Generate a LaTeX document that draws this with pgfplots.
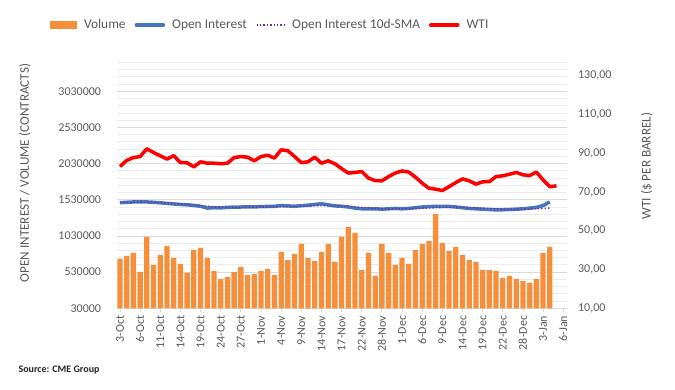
\documentclass[border=0pt]{standalone}
\usepackage{pgfplots}
\usepackage{pgfplotstable}
\pgfplotsset{compat=1.18}
\usepackage{fontspec}
\setmainfont{Carlito}
\definecolor{volc}{RGB}{246,143,60}
\definecolor{oic}{RGB}{70,118,190}
\definecolor{smac}{RGB}{112,48,160}
\definecolor{txtc}{RGB}{89,89,89}
\definecolor{gridmaj}{RGB}{217,217,217}
\definecolor{gridmin}{RGB}{236,236,236}

\pgfplotstableread{
idx vol oi sma
0 712000 1490000 1492000
1 753000 1495000 1494000
2 795000 1500000 1497000
3 532000 1502000 1498000
4 1016000 1500000 1497000
5 629000 1495000 1494000
6 767000 1488000 1490000
7 892000 1480000 1485000
8 726000 1472000 1478000
9 643000 1465000 1472000
10 518000 1460000 1465000
11 836000 1452000 1458000
12 864000 1440000 1450000
13 726000 1415000 1440000
14 546000 1420000 1433000
15 435000 1418000 1428000
16 463000 1425000 1425000
17 532000 1428000 1423000
18 601000 1430000 1423000
19 491000 1432000 1425000
20 504000 1432000 1427000
21 546000 1435000 1428000
22 574000 1438000 1430000
23 491000 1440000 1432000
24 809000 1450000 1435000
25 698000 1445000 1437000
26 781000 1440000 1440000
27 919000 1448000 1442000
28 726000 1455000 1445000
29 684000 1465000 1448000
30 809000 1475000 1450000
31 919000 1460000 1450000
32 670000 1445000 1448000
33 1016000 1440000 1443000
34 1154000 1430000 1437000
35 1071000 1415000 1430000
36 560000 1405000 1423000
37 795000 1403000 1417000
38 477000 1405000 1412000
39 919000 1400000 1408000
40 795000 1405000 1405000
41 629000 1410000 1405000
42 726000 1405000 1406000
43 643000 1410000 1408000
44 836000 1420000 1410000
45 919000 1430000 1413000
46 961000 1435000 1416000
47 1334000 1440000 1420000
48 933000 1440000 1423000
49 823000 1438000 1425000
50 878000 1430000 1425000
51 767000 1420000 1423000
52 698000 1410000 1420000
53 670000 1405000 1416000
54 560000 1400000 1412000
55 560000 1395000 1408000
56 546000 1390000 1404000
57 449000 1392000 1400000
58 477000 1395000 1398000
59 435000 1400000 1398000
60 407000 1405000 1400000
61 380000 1415000 1403000
62 435000 1425000 1406000
63 795000 1450000 1410000
64 878000 1500000 1415000
}\datatable

\pgfplotstableread{
idx wti
0 83.1
1 86.2
2 87.7
3 88.2
4 92.2
5 90.3
6 88.6
7 86.9
8 88.7
9 85.1
10 85.0
11 82.9
12 85.5
13 84.8
14 84.8
15 84.5
16 84.8
17 87.7
18 88.2
19 87.9
20 86.0
21 88.2
22 88.9
23 87.4
24 91.7
25 91.2
26 88.2
27 85.1
28 85.5
29 87.9
30 84.8
31 86.0
32 84.5
33 82.0
34 79.7
35 80.0
36 80.5
37 77.1
38 75.8
39 75.7
40 77.9
41 79.7
42 80.8
43 80.2
44 77.6
45 74.5
46 71.9
47 71.4
48 70.7
49 72.7
50 74.8
51 76.7
52 75.7
53 74.0
54 75.2
55 75.3
56 77.9
57 78.3
58 79.1
59 80.0
60 78.8
61 78.4
62 80.2
63 76.2
64 72.7
65 73.1
}\wtitable

\begin{document}
\begin{tikzpicture}[x=1pt,y=1pt]
\path[use as bounding box] (0,0) rectangle (675,390);
\pgfplotsset{
  common/.style={
    at={(116.6pt,81.7pt)}, anchor=south west,
    scale only axis, width=450pt, height=246pt,
    xmin=-0.5, xmax=66.5,
    tick label style={font=\fontsize{12}{14}\selectfont, text=txtc},
    label style={font=\fontsize{13.2}{15}\selectfont, text=txtc},
    /pgf/number format/assume math mode=true,
  }
}
\begin{axis}[common,
  ymin=30000, ymax=3430000,
  scaled y ticks=false,
  ytick={30000,530000,1030000,1530000,2030000,2530000,3030000},
  minor ytick={130000,230000,330000,430000,630000,730000,830000,930000,1130000,1230000,1330000,1430000,1630000,1730000,1830000,1930000,2130000,2230000,2330000,2430000,2630000,2730000,2830000,2930000,3130000,3230000,3330000,3430000},
  yticklabel style={/pgf/number format/.cd, fixed, set thousands separator={}, /tikz/.cd, xshift=-8pt},
  ymajorgrids, yminorgrids,
  major grid style={gridmaj, line width=0.8pt},
  minor grid style={gridmin, line width=0.8pt},
  axis x line*=bottom, axis y line*=left,
  y axis line style={draw=none},
  x axis line style={gridmaj, line width=0.8pt},
  ytick style={draw=none}, minor y tick style={draw=none},
  xtick={0,3,...,66},
  xticklabels={3-Oct,6-Oct,11-Oct,14-Oct,19-Oct,24-Oct,27-Oct,1-Nov,4-Nov,9-Nov,14-Nov,17-Nov,22-Nov,28-Nov,1-Dec,6-Dec,9-Dec,14-Dec,19-Dec,22-Dec,28-Dec,3-Jan,6-Jan},
  xticklabel style={rotate=90, anchor=east},
  xtick style={gridmaj, line width=0.8pt},
  tick align=outside, major tick length=4pt,
  ylabel={OPEN INTEREST / VOLUME (CONTRACTS)},
  ylabel style={at={(axis description cs:-0.2036,0.55)}, anchor=center},
  legend style={at={(axis description cs:-0.155,1.152)}, anchor=west, draw=none, fill=none,
    legend columns=4, font=\fontsize{13.4}{15}\selectfont, text=txtc,
    /tikz/every odd column/.append style={column sep=5pt},
    /tikz/every even column/.append style={column sep=7pt}},
  legend cell align=left,
]
\addplot[ybar, bar width=5.3pt, bar shift=0pt, fill=volc, draw=none,
  legend image code/.code={\fill[volc] (0pt,-4pt) rectangle (27pt,4pt);}]
  table[x=idx, y=vol] {\datatable};
\addlegendentry{Volume}
\addplot[oic, line width=3.5pt, line join=round,
  legend image code/.code={\draw[oic, line width=3.5pt, line cap=round] (1.5pt,0pt) -- (28.5pt,0pt);}]
  table[x=idx, y=oi] {\datatable};
\addlegendentry{Open Interest}
\addplot[smac, line width=1.4pt, dotted,
  legend image code/.code={\draw[smac, line width=1.4pt, dotted] (0pt,0pt) -- (28pt,0pt);}]
  table[x=idx, y=sma] {\datatable};
\addlegendentry{Open Interest 10d-SMA}
\addlegendimage{legend image code/.code={\draw[red, line width=3.5pt, line cap=round] (1.5pt,0pt) -- (28.5pt,0pt);}}
\addlegendentry{WTI}
\end{axis}
\begin{axis}[common,
  ymin=10, ymax=136.8,
  ytick={10,30,50,70,90,110,130},
  yticklabel style={/pgf/number format/.cd, fixed, fixed zerofill, precision=2, use comma, /tikz/.cd, xshift=8pt},
  axis x line=none, axis y line*=right,
  y axis line style={draw=none}, ytick style={draw=none},
  ylabel={WTI (\$ PER BARREL)},
  ylabel style={at={(axis description cs:1.178,0.578)}, anchor=center},
]
\addplot[red, line width=3.5pt, line join=round] table[x=idx, y=wti] {\wtitable};
\end{axis}
\node[anchor=west, font=\fontsize{10}{12}\selectfont\bfseries, text=black!85] at (15,20) {Source: CME Group};
\end{tikzpicture}
\end{document}
